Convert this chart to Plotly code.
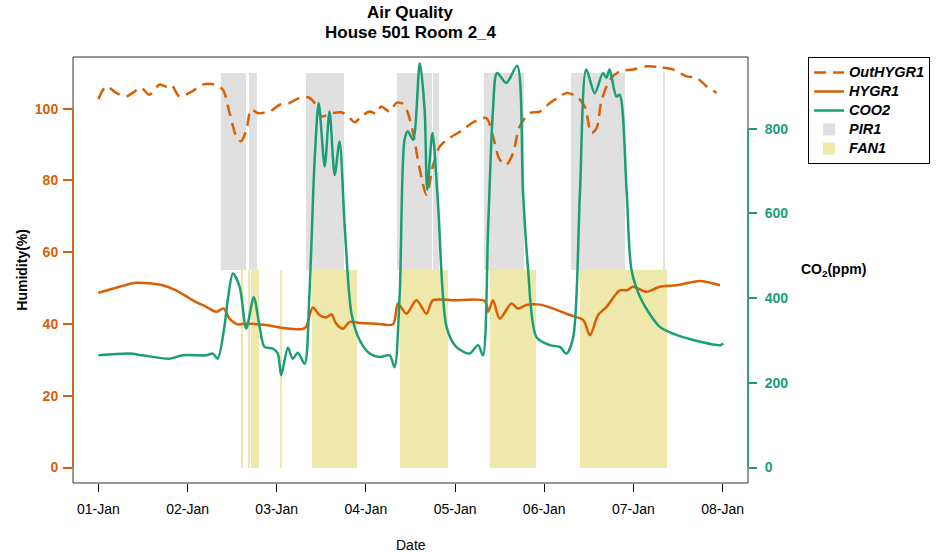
import pandas as pd
import plotly.graph_objects as go

# ---------------- data (hours since 01-Jan 00:00) ----------------
start = pd.Timestamp("2019-01-01")

out_t = [0, 2.1, 4.8, 7.5, 9.2, 11.5, 13.7, 16.4, 18.2, 19.6, 21.8, 24.5, 28.1, 31.2, 33.5,
         35.3, 37.1, 38.4, 39.8, 41.1, 42.9, 46.1, 48.8, 51.4, 54.1, 56.4, 58.2, 60.0, 63.1,
         65.4, 67.2, 69.0, 70.8, 73.0, 74.8, 76.1, 78.4, 80.2, 82.0, 83.3, 84.7, 86.5, 88.3,
         90.0, 91.9, 94.5, 98.1, 100.8, 104.4, 106.2, 108.0, 109.8, 111.6, 113.4, 116.1,
         118.8, 121.5, 124.2, 126.0, 128.7, 130.9, 132.7, 134.1, 135.4, 137.7, 140.3, 143.9,
         147.5, 151.1, 154.8, 158.3, 161.0, 163.7, 166.4]
out_hygr1 = [102.7, 106.2, 104.4, 103.4, 104.4, 105.8, 103.9, 106.7, 106.2, 106.7, 103.4, 104.4,
             106.7, 106.7, 105.3, 98.8, 92.3, 90.9, 94.0, 99.7, 98.8, 99.2, 101.1, 101.6, 103.0,
             103.2, 101.6, 97.9, 98.8, 99.0, 97.9, 96.2, 97.9, 99.2, 98.6, 100.6, 99.2, 101.6,
             101.4, 98.8, 93.2, 83.0, 76.0, 83.9, 89.5, 91.8, 94.1, 96.2, 97.4, 92.3, 85.8, 84.4,
             87.6, 95.1, 98.8, 99.2, 101.6, 103.4, 104.4, 103.4, 100.6, 93.2, 94.6, 102.2, 108.1,
             110.4, 110.9, 111.8, 111.6, 110.9, 109.0, 108.6, 106.2, 104.4]

hy_t = [0, 5.7, 10.2, 17.3, 20.9, 25.4, 29.0, 31.7, 33.7, 35.3, 37.5, 39.8, 45.2, 49.6, 55.0,
        55.9, 57.7, 59.5, 61.3, 62.7, 64.0, 65.8, 67.6, 70.3, 74.8, 79.3, 80.6, 82.9, 85.6,
        88.3, 90.0, 95.4, 104.0, 104.9, 106.2, 108.0, 111.2, 112.9, 115.2, 118.8, 122.4, 126.9,
        130.5, 132.3, 134.5, 136.8, 140.3, 142.2, 143.9, 147.5, 151.1, 155.6, 161.9, 167.3]
hygr1 = [48.7, 50.4, 51.5, 50.8, 49.4, 46.6, 44.8, 43.4, 44.3, 41.5, 39.9, 40.1, 39.7, 38.9, 38.6,
         39.2, 44.6, 42.5, 41.8, 42.7, 40.1, 38.7, 40.6, 40.3, 40.1, 39.9, 45.7, 42.9, 46.6,
         42.9, 46.6, 46.6, 46.4, 43.4, 46.6, 41.5, 45.7, 44.3, 45.3, 45.4, 44.3, 42.5, 41.1,
         36.9, 42.5, 44.8, 49.4, 49.4, 50.4, 49.0, 50.4, 50.8, 52.0, 50.8]

co_t = [0, 8.4, 11.9, 19.1, 22.7, 29.0, 30.8, 32.1, 33.9, 34.8, 36.2, 38.0, 39.8, 41.8, 43.4,
        44.7, 46.9, 48.3, 49.2, 51.0, 52.3, 53.7, 55.5, 56.8, 58.2, 59.3, 60.9, 62.2, 63.6,
        64.9, 66.3, 68.1, 70.3, 73.0, 75.7, 78.4, 79.7, 81.1, 82.4, 83.3, 84.7, 86.5, 87.8,
        88.5, 89.9, 91.4, 93.7, 96.3, 99.9, 102.2, 103.5, 104.9, 106.2, 107.3, 109.8, 112.7,
        114.3, 115.6, 117.9, 121.5, 124.2, 126.0, 127.8, 129.6, 131.3, 133.6, 135.8, 136.7,
        137.6, 139.4, 140.3, 142.2, 143.5, 146.2, 151.1, 154.7, 160.1, 167.3, 168.2]
coo2 = [265, 269, 265, 257, 265, 265, 269, 257, 332, 395, 458, 427, 328, 402, 332, 285, 281, 269,
        218, 283, 257, 271, 245, 411, 727, 861, 711, 841, 691, 770, 569, 364, 301, 269, 261, 265,
        237, 411, 774, 794, 774, 955, 845, 656, 790, 624, 332, 285, 269, 289, 265, 569, 845, 932,
        908, 949, 648, 474, 308, 289, 285, 269, 308, 648, 940, 884, 932, 920, 940, 876, 880, 648,
        466, 395, 332, 316, 301, 289, 293]

# occupancy (PIR1) and fan (FAN1) on-intervals, hours since 01-Jan
pir1_start = [32.9, 40.4, 56.0, 80.4, 90.0, 103.9, 127.2, 152.0]
pir1_end = [39.6, 42.6, 66.2, 89.8, 91.6, 114.6, 141.7, 152.3]
fan1_start = [38.6, 40.5, 41.2, 49.0, 57.4, 81.2, 105.5, 129.5]
fan1_end = [38.8, 40.7, 43.3, 49.2, 69.5, 94.0, 117.9, 153.0]
PIR_LEVEL = [55, 110]   # band drawn on humidity axis
FAN_LEVEL = [0, 55]

day_ticks = list(range(0, 8))
hum_ticks = [0, 20, 40, 60, 80, 100]
co2_ticks = [0, 200, 400, 600, 800]

# ---------------- helpers ----------------
def to_dt(hours):
    return [start + pd.Timedelta(hours=h) for h in hours]

ORANGE = "#D95F02"
GREEN = "#1B9E77"
GRAY = "#E0E0E0"
YELLOW = "#EEE8AA"
FONT = "Liberation Sans, Arial, sans-serif"

def lg(name):
    return "<span style='font-size:14.5px'>" + name + "</span>"

fig = go.Figure()

def band_trace(s, e, level, color, name, rank):
    centers = [(a + b) / 2 for a, b in zip(s, e)]
    widths = [(b - a) * 3600 * 1000 for a, b in zip(s, e)]
    return go.Bar(x=to_dt(centers), y=[level[1] - level[0]] * len(s), base=[level[0]] * len(s),
                  width=widths, marker=dict(color=color, line=dict(width=0)), name=lg(name),
                  legendrank=rank, hoverinfo="skip", yaxis="y")

fig.add_trace(band_trace(pir1_start, pir1_end, PIR_LEVEL, GRAY, "PIR1", 4))
fig.add_trace(band_trace(fan1_start, fan1_end, FAN_LEVEL, YELLOW, "FAN1", 5))

fig.add_trace(go.Scatter(x=to_dt(out_t), y=out_hygr1, mode="lines", name=lg("OutHYGR1"),
                         line=dict(color=ORANGE, width=2.5, dash="12px,7px", shape="spline", smoothing=0.8),
                         legendrank=1, yaxis="y"))
fig.add_trace(go.Scatter(x=to_dt(hy_t), y=hygr1, mode="lines", name=lg("HYGR1"),
                         line=dict(color=ORANGE, width=2.5, shape="spline", smoothing=0.8),
                         legendrank=2, yaxis="y"))
fig.add_trace(go.Scatter(x=to_dt(co_t), y=coo2, mode="lines", name=lg("COO2"),
                         line=dict(color=GREEN, width=2.5, shape="spline", smoothing=0.8),
                         legendrank=3, yaxis="y2"))

x0 = start - pd.Timedelta(hours=0.285 * 24)
x1 = start + pd.Timedelta(hours=7.285 * 24)

fig.update_layout(
    width=939, height=552, autosize=False,
    margin=dict(l=73, r=191, t=57, b=69, pad=0, autoexpand=False),
    paper_bgcolor="white", plot_bgcolor="white",
    barmode="overlay", bargap=0,
    font=dict(family=FONT, size=13, color="black"),
    xaxis=dict(type="date", range=[x0, x1], tickvals=to_dt([d * 24 for d in day_ticks]),
               tickformat="%d-%b", ticks="outside", ticklen=8, tickcolor="black", tickwidth=1,
               ticklabelstandoff=5, showgrid=False, zeroline=False, showline=False,
               automargin=False,
               tickfont=dict(family=FONT, size=14, color="black")),
    yaxis=dict(range=[-4.3, 114.4], tickvals=hum_ticks, ticks="outside", ticklen=9,
               tickcolor=ORANGE, tickwidth=1.5, showgrid=False, zeroline=False, showline=False,
               ticklabelstandoff=2, automargin=False,
               tickfont=dict(family=FONT, size=14, color=ORANGE, weight="bold")),
    yaxis2=dict(range=[-36.6, 969.5], tickvals=co2_ticks, overlaying="y", side="right",
                ticks="outside", ticklen=8, tickcolor=GREEN, tickwidth=1.5, showgrid=False,
                zeroline=False, showline=False, ticklabelstandoff=5, automargin=False,
                tickfont=dict(family=FONT, size=14, color=GREEN, weight="bold")),
    legend=dict(x=1.089, y=1.0, xanchor="left", yanchor="top", bordercolor="black",
                borderwidth=1, bgcolor="white", tracegroupgap=0, itemwidth=30,
                font=dict(family=FONT, size=12, color="black", weight="bold", style="italic")),
    shapes=[
        dict(type="rect", xref="paper", yref="paper", x0=0, x1=1, y0=0, y1=1,
             line=dict(color="#333333", width=1), layer="above"),
        dict(type="line", xref="paper", yref="y", x0=0, x1=0, y0=0, y1=100,
             line=dict(color=ORANGE, width=1.5), layer="above"),
        dict(type="line", xref="paper", yref="y2", x0=1, x1=1, y0=0, y1=800,
             line=dict(color=GREEN, width=1.5), layer="above"),
    ],
    annotations=[
        dict(text="<b>Air Quality</b>", xref="paper", yref="paper", x=0.5, y=(483 - 13) / 425.7,
             showarrow=False, xanchor="center", yanchor="middle",
             font=dict(family=FONT, size=17, color="black")),
        dict(text="<b>House 501 Room 2_4</b>", xref="paper", yref="paper", x=0.5,
             y=(483 - 33) / 425.7, showarrow=False, xanchor="center", yanchor="middle",
             font=dict(family=FONT, size=17, color="black")),
        dict(text="<b>Humidity(%)</b>", xref="paper", yref="paper", x=-0.076, y=0.5,
             textangle=-90, showarrow=False, xanchor="center", yanchor="middle",
             font=dict(family=FONT, size=14, color="black")),
        dict(text="<b>CO<sub>2</sub>(ppm)</b>", xref="paper", yref="paper", x=1.1265, y=0.5,
             showarrow=False, xanchor="center", yanchor="middle",
             font=dict(family=FONT, size=14, color="black")),
        dict(text="Date", xref="paper", yref="paper", x=0.5, y=-0.1456,
             showarrow=False, xanchor="center", yanchor="middle",
             font=dict(family=FONT, size=14, color="black")),
    ],
)

# remove the default page margin so the figure sits at the window's top-left corner
fig.write_html("out.html", config={"displayModeBar": False},
               post_script="document.body.style.margin='0';")
